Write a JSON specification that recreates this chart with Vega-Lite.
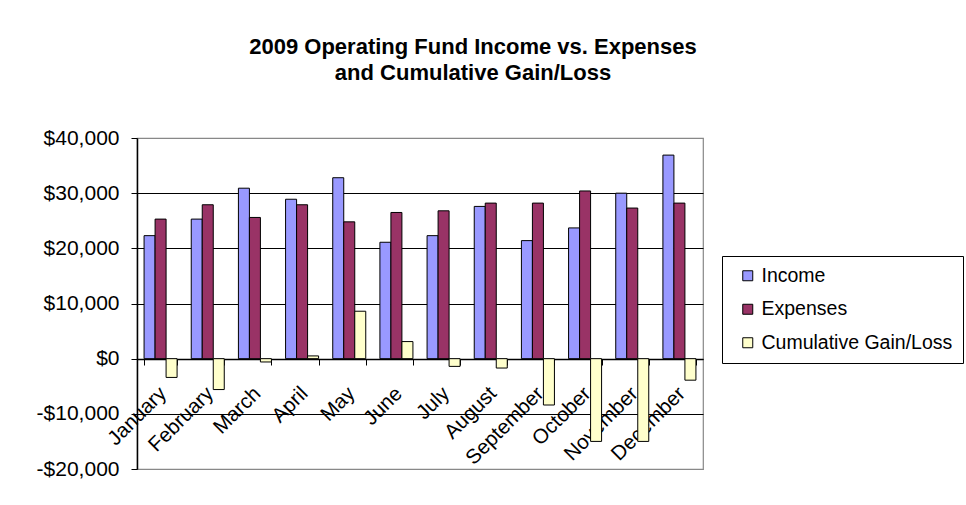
{
  "$schema": "https://vega.github.io/schema/vega-lite/v6.json",
  "autosize": {"type": "none"},
  "padding": {"left": 137, "top": 138, "right": 263, "bottom": 36},
  "width": 566,
  "height": 331,
  "background": "white",
  "title": {
    "text": ["2009 Operating Fund Income vs. Expenses", "and Cumulative Gain/Loss"],
    "font": "Liberation Sans",
    "fontSize": 22,
    "fontWeight": "bold",
    "color": "black",
    "anchor": "middle",
    "dx": 53,
    "offset": 42,
    "lineHeight": 26
  },
  "data": {
    "values": [
      {"month": "January", "series": "Income", "value": 22300},
      {"month": "January", "series": "Expenses", "value": 25300},
      {"month": "January", "series": "Cumulative Gain/Loss", "value": -3400},
      {"month": "February", "series": "Income", "value": 25300},
      {"month": "February", "series": "Expenses", "value": 27900},
      {"month": "February", "series": "Cumulative Gain/Loss", "value": -5600},
      {"month": "March", "series": "Income", "value": 30900},
      {"month": "March", "series": "Expenses", "value": 25600},
      {"month": "March", "series": "Cumulative Gain/Loss", "value": -600},
      {"month": "April", "series": "Income", "value": 28900},
      {"month": "April", "series": "Expenses", "value": 27900},
      {"month": "April", "series": "Cumulative Gain/Loss", "value": 500},
      {"month": "May", "series": "Income", "value": 32800},
      {"month": "May", "series": "Expenses", "value": 24800},
      {"month": "May", "series": "Cumulative Gain/Loss", "value": 8600},
      {"month": "June", "series": "Income", "value": 21100},
      {"month": "June", "series": "Expenses", "value": 26500},
      {"month": "June", "series": "Cumulative Gain/Loss", "value": 3100},
      {"month": "July", "series": "Income", "value": 22300},
      {"month": "July", "series": "Expenses", "value": 26800},
      {"month": "July", "series": "Cumulative Gain/Loss", "value": -1400},
      {"month": "August", "series": "Income", "value": 27600},
      {"month": "August", "series": "Expenses", "value": 28200},
      {"month": "August", "series": "Cumulative Gain/Loss", "value": -1700},
      {"month": "September", "series": "Income", "value": 21400},
      {"month": "September", "series": "Expenses", "value": 28200},
      {"month": "September", "series": "Cumulative Gain/Loss", "value": -8400},
      {"month": "October", "series": "Income", "value": 23700},
      {"month": "October", "series": "Expenses", "value": 30400},
      {"month": "October", "series": "Cumulative Gain/Loss", "value": -15000},
      {"month": "November", "series": "Income", "value": 30000},
      {"month": "November", "series": "Expenses", "value": 27300},
      {"month": "November", "series": "Cumulative Gain/Loss", "value": -15000},
      {"month": "December", "series": "Income", "value": 36900},
      {"month": "December", "series": "Expenses", "value": 28200},
      {"month": "December", "series": "Cumulative Gain/Loss", "value": -3900}
    ]
  },
  "mark": {"type": "bar", "stroke": "black", "strokeWidth": 1},
  "encoding": {
    "x": {
      "field": "month",
      "type": "nominal",
      "sort": null,
      "scale": {"paddingInner": 0.3, "paddingOuter": 0.15},
      "axis": {
        "title": null,
        "offset": -110,
        "labelAngle": -45,
        "labelAlign": "right",
        "labelBaseline": "top",
        "labelFont": "Liberation Sans",
        "labelFontSize": 20.5,
        "labelColor": "black",
        "labelPadding": 18,
        "labelOffset": -5,
        "domainColor": "black",
        "domainWidth": 1.5,
        "tickColor": "black",
        "tickSize": 6,
        "tickBand": "extent",
        "grid": false
      }
    },
    "xOffset": {
      "field": "series",
      "type": "nominal",
      "sort": ["Income", "Expenses", "Cumulative Gain/Loss"],
      "scale": {"paddingInner": 0, "paddingOuter": 0}
    },
    "y": {
      "field": "value",
      "type": "quantitative",
      "scale": {"domain": [-20000, 40000], "nice": false, "zero": false},
      "axis": {
        "title": null,
        "values": [-20000, -10000, 0, 10000, 20000, 30000, 40000],
        "labelExpr": "datum.value < 0 ? '-$' + format(-datum.value, ',') : '$' + format(datum.value, ',')",
        "labelFont": "Liberation Sans",
        "labelFontSize": 21,
        "labelColor": "black",
        "labelPadding": 12,
        "domainColor": "black",
        "domainWidth": 1.5,
        "tickColor": "black",
        "tickSize": 6,
        "grid": true,
        "gridColor": {"condition": {"test": "datum.value === 40000 || datum.value === -20000", "value": "#888888"}, "value": "black"},
        "gridWidth": 1.2,
        "gridOpacity": 1
      }
    },
    "color": {
      "field": "series",
      "type": "nominal",
      "scale": {
        "domain": ["Income", "Expenses", "Cumulative Gain/Loss"],
        "range": ["#9999FF", "#993366", "#FFFFCC"]
      },
      "legend": {
        "title": null,
        "orient": "none",
        "legendX": 585,
        "legendY": 118,
        "padding": 10,
        "strokeColor": "black",
        "fillColor": "white",
        "symbolType": "square",
        "symbolSize": 100,
        "symbolStrokeColor": "black",
        "symbolStrokeWidth": 1,
        "symbolOffset": 6,
        "labelFont": "Liberation Sans",
        "labelFontSize": 19.5,
        "labelColor": "black",
        "labelOffset": 4,
        "labelLimit": 300,
        "rowPadding": 12.5
      }
    }
  },
  "config": {
    "view": {"stroke": "#888888", "strokeWidth": 1.2}
  }
}
